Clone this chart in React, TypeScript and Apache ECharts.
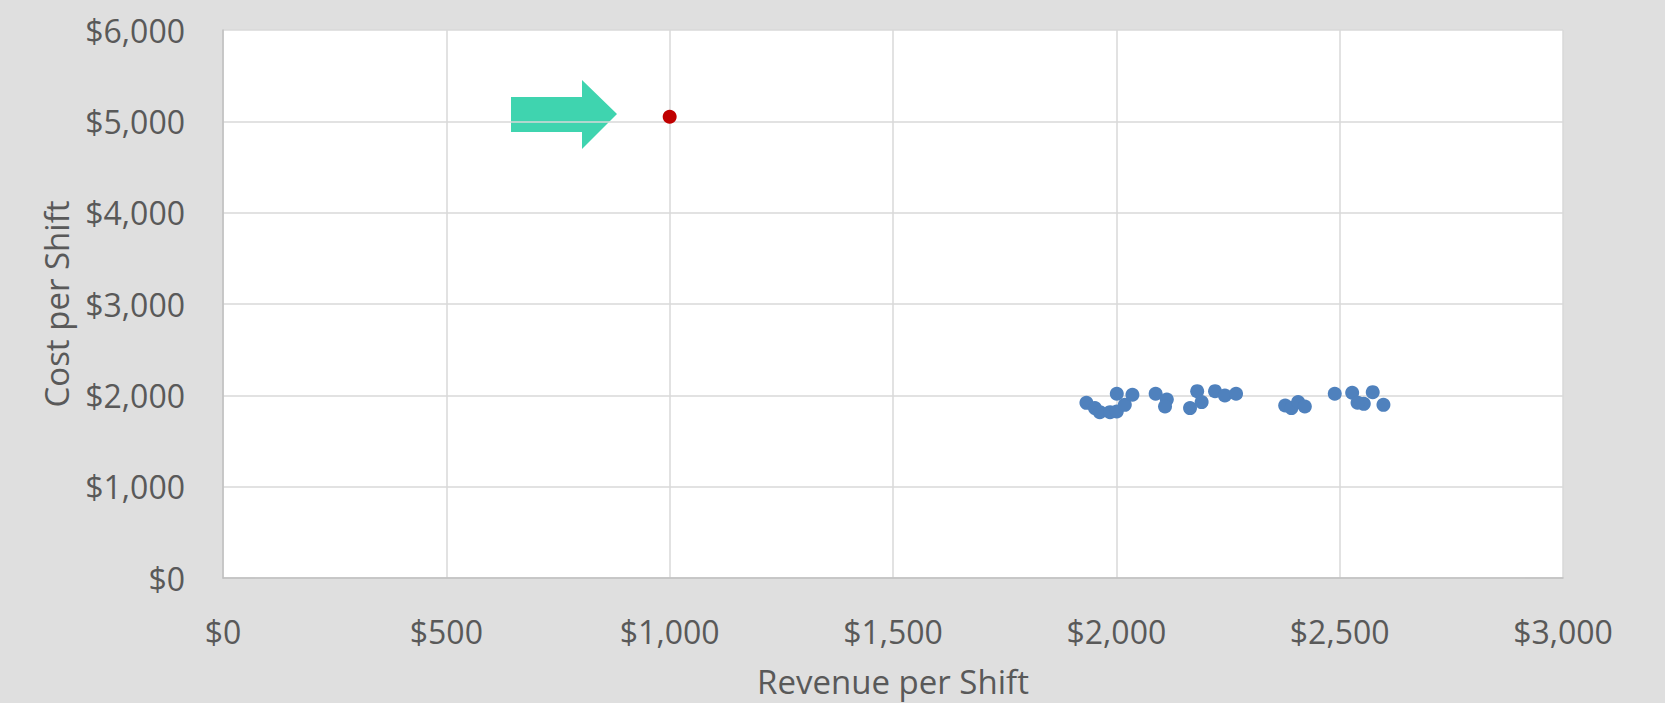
import React, { useEffect, useRef } from "react";
import * as echarts from "echarts";

const revenue: number[] = [1933, 1952, 1963, 1986, 2001, 2001, 2019, 2036, 2088, 2113, 2109, 2165, 2181, 2191, 2221, 2243, 2268, 2378, 2392, 2407, 2422, 2489, 2528, 2574, 2554, 2540, 2598];
const cost: number[] = [1918, 1860, 1816, 1816, 1823, 2017, 1896, 2006, 2017, 1955, 1878, 1860, 2046, 1926, 2046, 1998, 2017, 1889, 1860, 1926, 1878, 2017, 2028, 2035, 1907, 1920, 1896];
const outlier: number[][] = [[1000, 5050]];
const xTicks = { min: 0, max: 3000, interval: 500 };
const yTicks = { min: 0, max: 6000, interval: 1000 };

const fmt = (v: number) => "$" + v.toLocaleString("en-US");

export default function App() {
  const ref = useRef<HTMLDivElement>(null);
  useEffect(() => {
    if (!ref.current) return;
    const chart = echarts.init(ref.current, null, { renderer: "svg" });
    const font = "'Open Sans', 'Noto Sans', sans-serif";
    const txt = "#595959";
    chart.setOption({
      animation: false,
      backgroundColor: "#dfdfdf",
      grid: { left: 223, right: 102, top: 30, bottom: 122, show: true, backgroundColor: "#ffffff", borderWidth: 0 },
      xAxis: {
        type: "value",
        ...xTicks,
        name: "Revenue per Shift",
        nameLocation: "middle",
        nameGap: 87,
        nameTextStyle: { color: txt, fontFamily: font, fontSize: 33 },
        axisLine: { show: true, onZero: false, lineStyle: { color: "#bfbfbf", width: 1.5 } },
        axisTick: { show: false },
        axisLabel: { color: txt, fontFamily: font, fontSize: 32, margin: 37, formatter: fmt },
        splitLine: { show: true, lineStyle: { color: "#d9d9d9", width: 1.5 } },
      },
      yAxis: {
        type: "value",
        ...yTicks,
        name: "Cost per Shift",
        nameLocation: "middle",
        nameGap: 150,
        nameTextStyle: { color: txt, fontFamily: font, fontSize: 33 },
        axisLine: { show: true, lineStyle: { color: "#bfbfbf", width: 1.5 } },
        axisTick: { show: false },
        axisLabel: { color: txt, fontFamily: font, fontSize: 32, margin: 38, formatter: fmt },
        splitLine: { show: true, lineStyle: { color: "#d9d9d9", width: 1.5 } },
      },
      series: [
        {
          type: "scatter",
          data: revenue.map((r, i) => [r, cost[i]]),
          symbolSize: 14,
          itemStyle: { color: "#4f81bd", opacity: 1 },
        },
        {
          type: "scatter",
          data: outlier,
          symbolSize: 14,
          itemStyle: { color: "#c00000", opacity: 1 },
        },
      ],
      graphic: [
        {
          type: "polygon",
          shape: {
            points: [
              [511, 97],
              [582, 97],
              [582, 80],
              [617, 114],
              [582, 149],
              [582, 132],
              [511, 132],
            ],
          },
          style: { fill: "#3fd4af" },
        },
      ],
    });
    return () => chart.dispose();
  }, []);
  return <div ref={ref} style={{ width: 1665, height: 703, position: "absolute", left: 0, top: 0 }} />;
}
